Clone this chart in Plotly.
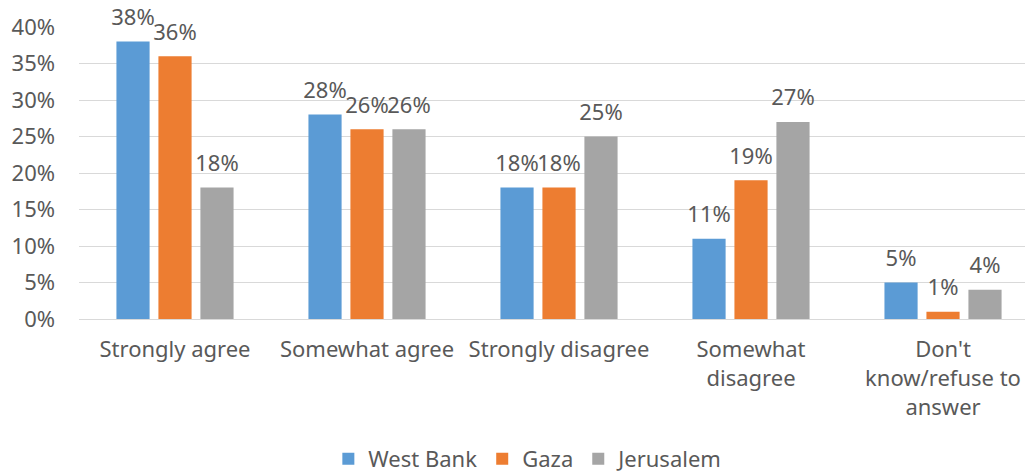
import plotly.graph_objects as go

categories = ["Strongly agree", "Somewhat agree", "Strongly disagree",
              "Somewhat<br>disagree", "Don't<br>know/refuse to<br>answer"]
series_names = ["West Bank", "Gaza", "Jerusalem"]
west_bank = [38, 28, 18, 11, 5]
gaza = [36, 26, 18, 19, 1]
jerusalem = [18, 26, 25, 27, 4]
y_ticks = [0, 5, 10, 15, 20, 25, 30, 35, 40]

colors = ["#5B9BD5", "#ED7D31", "#A5A5A5"]
FONT = "Noto Sans"
FS = 22
TXT = "#595959"

fig = go.Figure()
for name, vals, col in zip(series_names, [west_bank, gaza, jerusalem], colors):
    fig.add_trace(go.Bar(x=categories, y=vals, name=name, marker_color=col,
                         marker_line_width=0, hoverinfo="skip"))
for name, vals in zip(series_names, [west_bank, gaza, jerusalem]):
    fig.add_trace(go.Scatter(x=categories, y=vals, mode="markers+text",
                             text=[f"{v}%" for v in vals],
                             textposition="top center",
                             textfont=dict(family=FONT, size=FS, color=TXT),
                             marker=dict(size=16, opacity=0),
                             showlegend=False, hoverinfo="skip", cliponaxis=False))

fig.update_layout(
    width=1025, height=472,
    margin=dict(l=79, r=0, t=27, b=153, autoexpand=False),
    barmode="group", bargap=0.344, bargroupgap=0.21,
    scattermode="group", scattergap=0.344,
    plot_bgcolor="white", paper_bgcolor="white",
    font=dict(family=FONT, size=FS, color=TXT),
    legend=dict(orientation="h", x=0.475, xanchor="center",
                y=-0.479, yanchor="middle",
                font=dict(family=FONT, size=FS, color=TXT)),
)
fig.update_yaxes(range=[0, 40], tickvals=y_ticks, ticktext=[f"{v}%" for v in y_ticks],
                 showgrid=True, gridcolor="#D9D9D9", gridwidth=1, automargin=False,
                 zeroline=False, showline=False, ticks="", ticklabelstandoff=23,
                 tickfont=dict(family=FONT, size=FS, color=TXT))
fig.update_xaxes(range=[-0.5, 4.427], showline=True, linecolor="#D9D9D9", linewidth=1,
                 ticks="", ticklabelstandoff=11, automargin=False,
                 tickfont=dict(family=FONT, size=FS, color=TXT))

fig.write_html("out.html", config={"displayModeBar": False},
               post_script="document.body.style.margin='0';document.body.style.padding='0';")
